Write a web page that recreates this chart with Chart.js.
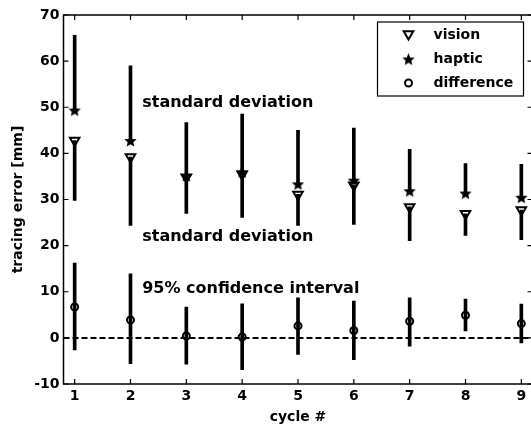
<!DOCTYPE html>
<html>
<head>
<meta charset="utf-8">
<script src="https://cdn.jsdelivr.net/npm/chart.js@4/dist/chart.umd.min.js"></script>
<style>
    html, body { margin: 0; padding: 0; background: #fff; overflow: hidden; }
    #wrap { width: 540px; height: 429px; position: relative; }
</style>
</head>
<body>
<div id="wrap"><canvas id="errChart"></canvas></div>
<script>
// cycle numbers and axis ticks
const cycles = [1, 2, 3, 4, 5, 6, 7, 8, 9];
const xTicks = [1, 2, 3, 4, 5, 6, 7, 8, 9];
const yTicks = [-10, 0, 10, 20, 30, 40, 50, 60, 70];
const xRange = [0.8, 9.2];
const yRange = [-10, 70];

// vision: mean and lower end of std bar
const visionMean = [42.8, 39.2, 34.8, 35.5, 31.1, 33.1, 28.4, 26.9, 27.7];
const visionLow = [29.8, 24.4, 27.0, 26.1, 24.4, 24.6, 21.1, 22.2, 21.3];

// haptic: mean and upper end of std bar
const hapticMean = [49.4, 42.8, 35.2, 36.0, 33.4, 34.2, 31.9, 31.4, 30.5];
const hapticHigh = [65.6, 59.0, 46.7, 48.5, 45.0, 45.5, 40.9, 37.8, 37.6];

// difference: mean and 95% CI
const diffMean = [6.7, 3.9, 0.4, 0.2, 2.6, 1.6, 3.6, 4.9, 3.1];
const ciLow = [-2.6, -5.6, -5.7, -6.9, -3.6, -4.7, -1.8, 1.5, -1.1];
const ciHigh = [16.2, 13.9, 6.7, 7.4, 8.7, 8.0, 8.7, 8.4, 7.3];

const seriesNames = ['vision', 'haptic', 'difference'];
const notes = [
    { text: 'standard deviation', x: 2.21, y: 50.9 },
    { text: 'standard deviation', x: 2.21, y: 21.9 },
    { text: '95% confidence interval', x: 2.21, y: 10.7 }
];

const FONT = 'DejaVu Sans';
Chart.defaults.font.family = FONT;
Chart.defaults.font.size = 14;
Chart.defaults.font.weight = 'bold';
Chart.defaults.color = '#000';

// filled five point star used as point style
function makeStar(r) {
    const c = document.createElement('canvas');
    const s = Math.ceil(r * 2 + 2);
    c.width = s; c.height = s;
    const g = c.getContext('2d');
    g.fillStyle = '#000';
    g.beginPath();
    for (let i = 0; i < 10; i++) {
        const rr = i % 2 === 0 ? r : r * 0.46;
        const a = -Math.PI / 2 + i * Math.PI / 5;
        const px = s / 2 + Math.cos(a) * rr, py = s / 2 + Math.sin(a) * rr + 0.8;
        if (i === 0) g.moveTo(px, py); else g.lineTo(px, py);
    }
    g.closePath();
    g.fill();
    return c;
}
const starImg = makeStar(6.5);

function drawTri(ctx, x, y, r) {
    ctx.beginPath();
    ctx.moveTo(x - r * 0.87, y - r * 0.5);
    ctx.lineTo(x + r * 0.87, y - r * 0.5);
    ctx.lineTo(x, y + r);
    ctx.closePath();
    ctx.stroke();
}

const framePlugin = {
    id: 'frame',
    afterDraw(chart) {
        const { ctx, chartArea: a, scales } = chart;
        ctx.save();
        ctx.strokeStyle = '#000';
        ctx.lineWidth = 1.5;
        ctx.strokeRect(a.left, a.top, a.right - a.left, a.bottom - a.top);
        const tl = 5;
        ctx.beginPath();
        xTicks.forEach(v => {
            const px = scales.x.getPixelForValue(v);
            ctx.moveTo(px, a.bottom); ctx.lineTo(px, a.bottom - tl);
            ctx.moveTo(px, a.top); ctx.lineTo(px, a.top + tl);
        });
        yTicks.forEach(v => {
            const py = scales.y.getPixelForValue(v);
            ctx.moveTo(a.left, py); ctx.lineTo(a.left + tl, py);
            ctx.moveTo(a.right, py); ctx.lineTo(a.right - tl, py);
        });
        ctx.lineWidth = 1.2;
        ctx.stroke();

        // text notes
        ctx.font = 'bold 16px ' + FONT;
        ctx.fillStyle = '#000';
        ctx.textBaseline = 'middle';
        ctx.textAlign = 'left';
        notes.forEach(n => {
            ctx.fillText(n.text, scales.x.getPixelForValue(n.x), scales.y.getPixelForValue(n.y));
        });

        // legend box
        const bx = a.right - 155, by = a.top + 7, bw = 146, bh = 74;
        ctx.fillStyle = '#fff';
        ctx.fillRect(bx, by, bw, bh);
        ctx.lineWidth = 1.2;
        ctx.strokeRect(bx, by, bw, bh);
        ctx.font = 'bold 14px ' + FONT;
        ctx.fillStyle = '#000';
        seriesNames.forEach((name, i) => {
            const cy = by + 13 + i * 24;
            const mx = bx + 31;
            ctx.lineWidth = 2;
            if (i === 0) drawTri(ctx, mx, cy - 1, 5.5);
            else if (i === 1) ctx.drawImage(starImg, mx - starImg.width / 2, cy - starImg.height / 2);
            else { ctx.beginPath(); ctx.arc(mx, cy, 3.5, 0, Math.PI * 2); ctx.stroke(); }
            ctx.fillText(name, bx + 56, cy);
        });
        ctx.restore();
    }
};

const barCommon = {
    type: 'bar',
    backgroundColor: '#000',
    borderWidth: 0,
    barThickness: 3,
    grouped: false,
    order: 3
};

new Chart(document.getElementById('errChart'), {
    type: 'scatter',
    data: {
        datasets: [
            Object.assign({ label: 'vision sd', data: cycles.map((c, i) => ({ x: c, y: [visionLow[i], visionMean[i]] })) }, barCommon),
            Object.assign({ label: 'haptic sd', data: cycles.map((c, i) => ({ x: c, y: [hapticMean[i], hapticHigh[i]] })) }, barCommon),
            Object.assign({ label: 'ci', data: cycles.map((c, i) => ({ x: c, y: [ciLow[i], ciHigh[i]] })) }, barCommon),
            {
                type: 'line',
                label: 'zero',
                data: [{ x: xRange[0], y: 0 }, { x: xRange[1], y: 0 }],
                borderColor: '#000',
                borderWidth: 2,
                borderDash: [6, 3],
                pointRadius: 0,
                order: 4
            },
            {
                label: seriesNames[0],
                data: cycles.map((c, i) => ({ x: c, y: visionMean[i] })),
                pointStyle: 'triangle',
                rotation: 180,
                radius: 5.5,
                borderWidth: 2,
                borderColor: '#000',
                backgroundColor: 'rgba(255,255,255,0)',
                order: 1
            },
            {
                label: seriesNames[1],
                data: cycles.map((c, i) => ({ x: c, y: hapticMean[i] })),
                pointStyle: starImg,
                order: 1
            },
            {
                label: seriesNames[2],
                data: cycles.map((c, i) => ({ x: c, y: diffMean[i] })),
                pointStyle: 'circle',
                radius: 3.5,
                borderWidth: 2,
                borderColor: '#000',
                backgroundColor: 'rgba(255,255,255,0)',
                order: 1
            }
        ]
    },
    options: {
        responsive: true,
        maintainAspectRatio: false,
        animation: false,
        events: [],
        layout: { padding: { top: 15, right: 7, left: 0, bottom: 0 } },
        plugins: { legend: { display: false }, tooltip: { enabled: false } },
        scales: {
            x: {
                type: 'linear',
                min: xRange[0],
                max: xRange[1],
                offset: false,
                afterBuildTicks: s => { s.ticks = xTicks.map(v => ({ value: v })); },
                afterFit: s => { s.height = 45; },
                grid: { display: false, drawTicks: false },
                border: { display: false },
                ticks: { padding: 4, color: '#000', font: { size: 14, weight: 'bold' } },
                title: { display: true, text: 'cycle #', color: '#000', font: { size: 14, weight: 'bold' }, padding: { top: 0, bottom: 3 } }
            },
            y: {
                type: 'linear',
                min: yRange[0],
                max: yRange[1],
                afterBuildTicks: s => { s.ticks = yTicks.map(v => ({ value: v })); },
                afterFit: s => { s.width = 63.5; },
                grid: { display: false, drawTicks: false },
                border: { display: false },
                ticks: { padding: 4, color: '#000', font: { size: 14, weight: 'bold' } },
                title: { display: true, text: 'tracing error [mm]', color: '#000', font: { size: 14, weight: 'bold' }, padding: { top: 10, bottom: 0 } }
            }
        }
    },
    plugins: [framePlugin]
});
</script>
</body>
</html>
